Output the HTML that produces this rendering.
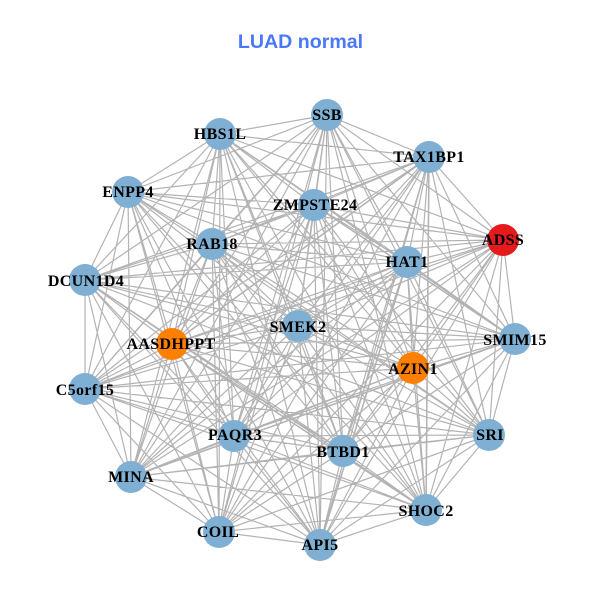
<!DOCTYPE html>
<html><head><meta charset="utf-8"><style>html,body{margin:0;padding:0;background:#fff}svg{display:block}
.t{font:bold 16px "Liberation Serif",serif;fill:#000;text-anchor:middle;letter-spacing:.35px}
</style></head><body>
<svg width="600" height="600" viewBox="0 0 600 600" xmlns="http://www.w3.org/2000/svg">
<rect width="600" height="600" fill="#fff"/>
<text x="300.500" y="48" text-anchor="middle" style="font:bold 19.6px 'Liberation Sans',sans-serif;fill:#4a78fa">LUAD normal</text>
<path fill="none" stroke="#b3b3b3" stroke-width="1.2" d="
M327 115L220 134M327 115L429 157M327 115L128 192M327 115L314 205M327 115L212 244M327 115L503 240M327 115L407 262M327 115L85 280M327 115L298 326M327 115L515 339M327 115L172 344M327 115L413 368M327 115L85 389M327 115L234 436M327 115L489 435M327 115L343 451M327 115L131 477M327 115L426 510M327 115L219 532M327 115L320 545
M220 134L429 157M220 134L128 192M220 134L314 205M220 134L212 244M220 134L503 240M220 134L407 262M220 134L85 280M220 134L298 326M220 134L515 339M220 134L172 344M220 134L413 368M220 134L85 389M220 134L234 436M220 134L489 435M220 134L343 451M220 134L131 477M220 134L426 510M220 134L219 532M220 134L320 545
M429 157L128 192M429 157L314 205M429 157L212 244M429 157L503 240M429 157L407 262M429 157L85 280M429 157L298 326M429 157L515 339M429 157L172 344M429 157L413 368M429 157L85 389M429 157L234 436M429 157L489 435M429 157L343 451M429 157L131 477M429 157L426 510M429 157L219 532M429 157L320 545
M128 192L314 205M128 192L212 244M128 192L503 240M128 192L407 262M128 192L85 280M128 192L298 326M128 192L515 339M128 192L172 344M128 192L413 368M128 192L85 389M128 192L234 436M128 192L489 435M128 192L343 451M128 192L131 477M128 192L426 510M128 192L219 532M128 192L320 545
M314 205L212 244M314 205L503 240M314 205L407 262M314 205L85 280M314 205L298 326M314 205L515 339M314 205L172 344M314 205L413 368M314 205L85 389M314 205L234 436M314 205L489 435M314 205L343 451M314 205L131 477M314 205L426 510M314 205L219 532M314 205L320 545
M212 244L503 240M212 244L407 262M212 244L85 280M212 244L298 326M212 244L515 339M212 244L172 344M212 244L413 368M212 244L85 389M212 244L234 436M212 244L489 435M212 244L343 451M212 244L131 477M212 244L426 510M212 244L219 532M212 244L320 545
M503 240L407 262M503 240L85 280M503 240L298 326M503 240L515 339M503 240L172 344M503 240L413 368M503 240L85 389M503 240L234 436M503 240L489 435M503 240L343 451M503 240L131 477M503 240L426 510M503 240L219 532M503 240L320 545
M407 262L85 280M407 262L298 326M407 262L515 339M407 262L172 344M407 262L413 368M407 262L85 389M407 262L234 436M407 262L489 435M407 262L343 451M407 262L131 477M407 262L426 510M407 262L219 532M407 262L320 545
M85 280L298 326M85 280L515 339M85 280L172 344M85 280L413 368M85 280L85 389M85 280L234 436M85 280L489 435M85 280L343 451M85 280L131 477M85 280L426 510M85 280L219 532M85 280L320 545
M298 326L515 339M298 326L172 344M298 326L413 368M298 326L85 389M298 326L234 436M298 326L489 435M298 326L343 451M298 326L131 477M298 326L426 510M298 326L219 532M298 326L320 545
M515 339L172 344M515 339L413 368M515 339L85 389M515 339L234 436M515 339L489 435M515 339L343 451M515 339L131 477M515 339L426 510M515 339L219 532M515 339L320 545
M172 344L413 368M172 344L85 389M172 344L234 436M172 344L489 435M172 344L343 451M172 344L131 477M172 344L426 510M172 344L219 532M172 344L320 545
M413 368L85 389M413 368L234 436M413 368L489 435M413 368L343 451M413 368L131 477M413 368L426 510M413 368L219 532M413 368L320 545
M85 389L234 436M85 389L489 435M85 389L343 451M85 389L131 477M85 389L426 510M85 389L219 532M85 389L320 545
M234 436L489 435M234 436L343 451M234 436L131 477M234 436L426 510M234 436L219 532M234 436L320 545
M489 435L343 451M489 435L131 477M489 435L426 510M489 435L219 532M489 435L320 545
M343 451L131 477M343 451L426 510M343 451L219 532M343 451L320 545
M131 477L426 510M131 477L219 532M131 477L320 545
M426 510L219 532M426 510L320 545
M219 532L320 545"/>
<path fill="none" stroke="#b3b3b3" stroke-width="1.5" d="M314 205L515 339M131 477L515 339M172 344L426 510M429 157L426 510M429 157L172 344M407 262L320 545"/>
<g fill="#7fb0d3">
<circle cx="327" cy="115" r="16"/><circle cx="220" cy="134" r="16"/><circle cx="429" cy="157" r="16"/><circle cx="128" cy="192" r="16"/><circle cx="314" cy="205" r="16"/><circle cx="212" cy="244" r="16"/><circle cx="503" cy="240" r="16" fill="#e41a1c"/><circle cx="407" cy="262" r="16"/><circle cx="85" cy="280" r="16"/><circle cx="298" cy="326" r="16"/><circle cx="515" cy="339" r="16"/><circle cx="172" cy="344" r="16" fill="#ff7f00"/><circle cx="413" cy="368" r="16" fill="#ff7f00"/><circle cx="85" cy="389" r="16"/><circle cx="234" cy="436" r="16"/><circle cx="489" cy="435" r="16"/><circle cx="343" cy="451" r="16"/><circle cx="131" cy="477" r="16"/><circle cx="426" cy="510" r="16"/><circle cx="219" cy="532" r="16"/><circle cx="320" cy="545" r="16"/>
</g>
<g>
<text class="t" x="327" y="120">SSB</text><text class="t" x="220" y="139">HBS1L</text><text class="t" x="429" y="162">TAX1BP1</text><text class="t" x="128" y="197">ENPP4</text><text class="t" x="315" y="210">ZMPSTE24</text><text class="t" x="212" y="249">RAB18</text><text class="t" x="503" y="245">ADSS</text><text class="t" x="407" y="267">HAT1</text><text class="t" x="86" y="286">DCUN1D4</text><text class="t" x="298" y="332">SMEK2</text><text class="t" x="515" y="345">SMIM15</text><text class="t" x="171" y="349">AASDHPPT</text><text class="t" x="413" y="374">AZIN1</text><text class="t" x="85" y="395">C5orf15</text><text class="t" x="235" y="440">PAQR3</text><text class="t" x="490" y="440">SRI</text><text class="t" x="343" y="457">BTBD1</text><text class="t" x="131" y="482">MINA</text><text class="t" x="426" y="516">SHOC2</text><text class="t" x="218" y="537">COIL</text><text class="t" x="320" y="550">API5</text>
</g>
</svg></body></html>
